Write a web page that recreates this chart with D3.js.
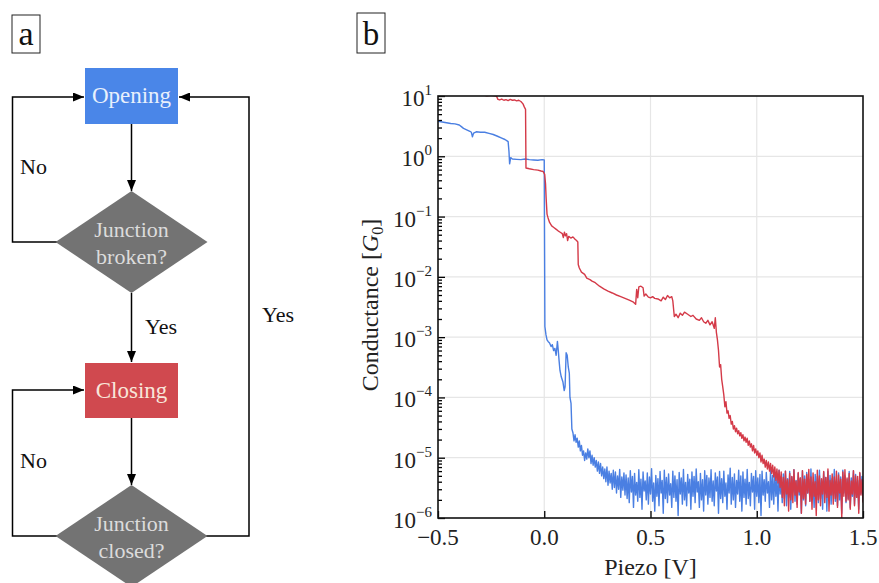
<!DOCTYPE html>
<html><head><meta charset="utf-8">
<script src="https://cdn.jsdelivr.net/npm/d3@7"></script>
<style>
body{margin:0;background:#fff}
svg{display:block}
text{font-family:"Liberation Serif","Times New Roman",serif}
</style>
</head><body>
<svg id="c" width="879" height="583"></svg>
<script>
// ---------- DATA ----------
const xTickValues = [-0.5, 0, 0.5, 1, 1.5];
const xTickLabels = ["\u22120.5", "0.0", "0.5", "1.0", "1.5"];
const yExponents = [1, 0, -1, -2, -3, -4, -5, -6];
const xLabel = "Piezo [V]";
const flowLabels = ["Opening", "Closing", ["Junction", "broken?"], ["Junction", "closed?"]];
const branchLabels = ["No", "Yes", "No", "Yes"];

// Opening trace (blue): [piezo V, conductance G0]
const blueSteps = [
 [-0.5,3.8],[-0.48,3.7],[-0.46,3.6],[-0.44,3.5],[-0.42,3.45],[-0.40,3.3],[-0.39,3.1],[-0.38,2.9],
 [-0.37,2.8],[-0.36,2.7],[-0.35,2.6],[-0.343,2.5],[-0.338,2.1],[-0.333,2.4],[-0.33,2.45],[-0.32,2.55],
 [-0.30,2.5],[-0.28,2.5],[-0.26,2.4],[-0.24,2.3],[-0.22,2.15],[-0.20,2.0],[-0.185,1.9],[-0.175,1.8],
 [-0.17,1.75],[-0.166,1.2],[-0.163,0.75],[-0.158,0.95],[-0.15,0.9],[-0.13,0.89],[-0.11,0.88],[-0.09,0.9],
 [-0.07,0.88],[-0.05,0.87],[-0.03,0.86],[-0.01,0.88],[0.0,0.87],
 [0.003,0.0015],[0.008,0.0011],[0.013,0.0009],[0.018,0.00085],[0.025,0.0008],[0.032,0.0007],[0.038,0.00075],
 [0.044,0.0006],[0.05,0.00065],[0.056,0.0005],[0.062,0.00085],[0.066,0.0006],[0.07,0.0004],[0.074,0.00028],
 [0.08,0.00022],[0.088,0.00018],[0.094,0.00013],[0.098,0.00015],[0.103,0.00055],[0.108,0.0005],[0.113,0.00032],
 [0.118,0.00025],[0.121,0.0001],[0.126,0.00008],[0.13,0.00003]
];
// blue noisy tail, sampled every 0.005 V from 0.135 V, in micro-G0
const blueTailStart = 0.135, tailStep = 0.005;
const blueTailMicro = [
 26,19,24,18,21,15,19,13,16,11,
 13,9,12,9.5,14,10,13,8,11,7.5,
 10,7,9,6,8.5,5.5,8,5,7,4.5,
 6.5,4,7,3.5,6,3.8,5.5,3,6.2,3.2,
 5.8,2.6,5,3,6.4,2.2,4.8,2.9,5.6,2.4,
 5.2,2.1,4.6,1.8,6.1,2.7,4.9,1.5,5.5,2.4,
 3.9,1.9,6.3,2.2,4.4,1.4,5.8,2.8,4.1,2.0,
 5.6,1.7,4.8,2.5,6.6,1.9,3.8,1.3,5.1,2.3,
 4.5,1.6,5.9,2.6,4.2,1.2,6.2,2.1,4.7,1.8,
 5.4,2.4,3.7,1.5,6.0,2.2,5.0,1.9,4.3,1.1,
 5.7,2.5,4.6,1.7,6.4,2.0,3.9,1.6,5.3,2.6,
 4.4,1.4,5.8,2.3,4.9,1.8,6.5,2.7,4.0,1.5,
 5.5,2.0,4.3,1.3,6.1,2.4,5.1,1.7,4.6,2.2,
 6.3,1.9,4.1,1.6,5.6,2.8,4.8,1.2,5.9,2.1,
 4.5,1.8,6.0,2.3,3.8,1.4,5.2,2.6,6.7,1.7,
 4.7,2.0,5.4,1.5,4.2,2.5,6.2,1.9,5.0,1.3,
 5.8,2.2,4.4,1.7,6.4,2.1,3.9,1.6,5.5,2.7,
 4.9,1.4,6.1,2.3,4.6,1.8,5.3,1.1,6.0,2.4,
 4.3,1.9,5.7,2.6,4.0,1.5,6.6,2.0,5.1,1.7,
 5.6,2.3,4.7,1.3,6.2,2.5,4.1,1.8,5.4,2.1,
 6.0,1.6,4.5,2.2,5.9,1.4,4.8,2.7,6.3,1.9,
 4.2,1.7,5.5,2.4,4.6,1.2,6.1,2.0,5.0,1.6,
 5.7,2.6,4.4,1.9,6.5,2.2,3.9,1.5,5.3,2.3,
 4.9,1.8,6.2,2.1,4.3,1.4,5.8,2.5,4.7,1.3,
 6.0,2.2,5.1,1.7,4.5,2.4,6.4,1.9,4.1,1.6,
 5.6,2.0,4.8,1.2,6.2,2.6,5.0,1.8,4.4,2.1,
 5.9,1.5,4.6,2.3,6.1,1.7,5.3,2.2,4.2,1.4,
 5.5,2.5,4.9,1.9
];

// Closing trace (red): [piezo V, conductance G0]
const redSteps = [
 [-0.31,14],[-0.29,10.4],[-0.27,10.1],[-0.25,10.3],[-0.225,10.0],[-0.218,8.8],[-0.21,8.6],[-0.20,8.9],
 [-0.19,8.5],[-0.18,8.7],[-0.17,8.4],[-0.16,8.8],[-0.15,8.5],[-0.14,8.6],[-0.13,8.3],[-0.12,8.5],
 [-0.11,8.1],[-0.10,7.4],[-0.094,6.6],[-0.088,6.0],[-0.086,0.64],[-0.07,0.62],[-0.05,0.6],[-0.03,0.59],
 [-0.015,0.57],[-0.005,0.56],[0.002,0.5],[0.006,0.35],[0.009,0.2],[0.013,0.11],[0.018,0.095],[0.025,0.08],
 [0.035,0.07],[0.045,0.066],[0.055,0.062],[0.065,0.058],[0.075,0.055],[0.085,0.052],[0.09,0.045],[0.095,0.055],
 [0.10,0.048],[0.105,0.052],[0.11,0.040],[0.115,0.047],[0.125,0.044],[0.135,0.046],[0.145,0.042],[0.152,0.040],
 [0.158,0.038],[0.160,0.016],[0.165,0.014],[0.175,0.012],[0.19,0.011],[0.20,0.0095],[0.215,0.0090],[0.225,0.0085],
 [0.24,0.0080],[0.26,0.0070],[0.28,0.0063],[0.30,0.0058],[0.32,0.0054],[0.34,0.0050],[0.36,0.0047],[0.38,0.0044],
 [0.40,0.0041],[0.42,0.0038],[0.43,0.0035],[0.435,0.0062],[0.44,0.0045],[0.445,0.0068],[0.455,0.0070],[0.465,0.0066],
 [0.47,0.0048],[0.478,0.0052],[0.49,0.0046],[0.50,0.0045],[0.51,0.0047],[0.52,0.0044],[0.535,0.0043],[0.55,0.0040],
 [0.56,0.0046],[0.57,0.0042],[0.58,0.0049],[0.59,0.0045],[0.60,0.0047],[0.605,0.0040],[0.612,0.0022],[0.62,0.0024],
 [0.63,0.0021],[0.64,0.0025],[0.65,0.0023],[0.66,0.0026],[0.675,0.0024],[0.69,0.0022],[0.70,0.0023],[0.715,0.0020],
 [0.73,0.0019],[0.74,0.0021],[0.75,0.0018],[0.76,0.0017],[0.77,0.0019],[0.78,0.0016],[0.79,0.0018],[0.80,0.0014],
 [0.805,0.0021],[0.81,0.0012]
];
// red noisy tail, sampled every 0.005 V from 0.815 V, in micro-G0
const redTailStart = 0.815;
const redTailMicro = [
 900,600,320,350,200,150,110,70,85,55,
 60,45,50,36,40,30,34,27,31,25,
 28,23,26,21,24,19,22,18,21,16,
 19,15,17,13,16,12,14,11,13,10,
 12,8.5,11,8,9.5,7,9,6.5,8.5,6,
 8,5.5,7.5,4.8,7,4.2,6.5,3.8,6.2,3.2,
 5.8,2.2,4.7,1.6,6.0,2.5,4.3,1.3,5.5,2.0,
 4.9,1.8,6.3,2.4,4.1,1.5,5.7,2.7,4.6,1.2,
 6.1,2.1,4.4,1.7,5.3,2.6,6.4,1.9,4.8,1.4,
 5.6,2.3,4.0,1.1,6.2,2.0,5.0,1.6,4.5,2.5,
 5.9,1.8,4.7,2.2,6.5,1.3,4.2,2.4,5.4,1.7,
 4.8,2.1,6.0,1.5,5.2,2.6,4.4,1.0,5.8,2.3,
 6.3,1.9,4.6,2.0,5.5,1.4,4.1,2.5,6.1,1.6,
 5.0,2.2,4.9,1.2,5.7,2.4,4.3,1.8
];

// ---------- BUILD ----------
const blueData = blueSteps.concat(blueTailMicro.map((v, i) => [blueTailStart + i * tailStep, v * 1e-6]));
const redData = redSteps.concat(redTailMicro.map((v, i) => [redTailStart + i * tailStep, v * 1e-6]));

const svg = d3.select("#c");
const L = 438, R = 863, T = 96, B = 518;
const x = d3.scaleLinear().domain([-0.5, 1.5]).range([L, R]);
const y = d3.scaleLog().domain([1e-6, 10]).range([B, T]);

const decades = yExponents.map(e => Math.pow(10, e));
const minor = [];
for (let e = -6; e < 1; e++) for (let k = 2; k <= 9; k++) minor.push(k * Math.pow(10, e));

// grid
const grid = svg.append("g").attr("stroke", "#e6e6e6").attr("stroke-width", 1.2);
grid.selectAll("line.h").data(decades.filter(d => d > 1e-6 && d < 10)).join("line")
  .attr("x1", L).attr("x2", R).attr("y1", d => y(d)).attr("y2", d => y(d));
grid.selectAll("line.v").data(xTickValues.filter(d => d > -0.5 && d < 1.5)).join("line")
  .attr("y1", T).attr("y2", B).attr("x1", d => x(d)).attr("x2", d => x(d));

// traces
svg.append("clipPath").attr("id", "clip").append("rect")
  .attr("x", L).attr("y", T).attr("width", R - L).attr("height", B - T);
const line = d3.line().x(d => x(d[0])).y(d => y(d[1]));
const traces = svg.append("g").attr("clip-path", "url(#clip)");
traces.append("path").datum(blueData).attr("d", line)
  .attr("fill", "none").attr("stroke", "#4a7fe2").attr("stroke-width", 1.4).attr("stroke-linejoin", "round");
traces.append("path").datum(redData).attr("d", line)
  .attr("fill", "none").attr("stroke", "#d43a48").attr("stroke-width", 1.4).attr("stroke-linejoin", "round");

// axes (ticks inward)
const gy = svg.append("g").attr("transform", `translate(${L},0)`)
  .call(d3.axisLeft(y).tickValues(decades).tickSize(-7).tickFormat(""));
const gym = svg.append("g").attr("transform", `translate(${L},0)`)
  .call(d3.axisLeft(y).tickValues(minor).tickSize(-4).tickFormat(""));
const gx = svg.append("g").attr("transform", `translate(0,${B})`)
  .call(d3.axisBottom(x).tickValues(xTickValues).tickSize(-7).tickFormat(""));
[gy, gym, gx].forEach(g => {
  g.select(".domain").remove();
  g.selectAll(".tick line").attr("stroke", "#000").attr("stroke-width", 1.3);
});

// frame
svg.append("rect").attr("x", L).attr("y", T).attr("width", R - L).attr("height", B - T)
  .attr("fill", "none").attr("stroke", "#111").attr("stroke-width", 1.6);

// y tick labels
const yl = svg.append("g").attr("font-size", 23).attr("fill", "#222");
yExponents.forEach(e => {
  const t = yl.append("text").attr("x", L - 6).attr("y", y(Math.pow(10, e)) + 10).attr("text-anchor", "end");
  t.append("tspan").text("10");
  t.append("tspan").attr("dy", -11).attr("font-size", 15).text(e < 0 ? "\u2212" + (-e) : String(e));
});
// x tick labels
svg.append("g").attr("font-size", 23).attr("fill", "#222").selectAll("text")
  .data(xTickValues).join("text")
  .attr("x", d => x(d)).attr("y", 545).attr("text-anchor", "middle")
  .text((d, i) => xTickLabels[i]);

// axis labels
svg.append("text").attr("x", (L + R) / 2).attr("y", 575).attr("text-anchor", "middle")
  .attr("font-size", 24).attr("fill", "#222").text(xLabel);
const ylab = svg.append("text").attr("transform", "translate(378,305) rotate(-90)")
  .attr("text-anchor", "middle").attr("font-size", 24).attr("fill", "#222");
ylab.append("tspan").text("Conductance [");
ylab.append("tspan").attr("font-style", "italic").text("G");
ylab.append("tspan").attr("font-size", 16).attr("dy", 5).text("0");
ylab.append("tspan").attr("dy", -5).text("]");

// panel labels
function panelLabel(px, py, w, h, s, fs) {
  svg.append("rect").attr("x", px).attr("y", py).attr("width", w).attr("height", h)
    .attr("fill", "none").attr("stroke", "#222").attr("stroke-width", 1);
  svg.append("text").attr("x", px + w / 2).attr("y", py + h - 8).attr("text-anchor", "middle")
    .attr("font-size", fs).attr("fill", "#111").text(s);
}
panelLabel(12, 15, 28, 38, "a", 34);
panelLabel(357, 13, 28, 40, "b", 33);

// ---------- FLOWCHART ----------
const defs = svg.append("defs");
defs.append("marker").attr("id", "arr").attr("markerUnits", "userSpaceOnUse")
  .attr("markerWidth", 11).attr("markerHeight", 9).attr("refX", 11).attr("refY", 4.5)
  .attr("orient", "auto").append("path").attr("d", "M0,0 L11,4.5 L0,9 Z").attr("fill", "#000");

const fc = svg.append("g");
const cx = 131.5;
const connectors = [
  [[cx, 124], [cx, 191]],
  [[cx, 293], [cx, 362]],
  [[cx, 418], [cx, 485]],
  [[57, 242], [12.5, 242], [12.5, 97], [84, 97]],
  [[57, 536], [12.5, 536], [12.5, 390], [84, 390]],
  [[206, 536], [249, 536], [249, 97], [179, 97]]
];
fc.selectAll("path.c").data(connectors).join("path")
  .attr("d", d => d3.line()(d)).attr("fill", "none").attr("stroke", "#000")
  .attr("stroke-width", 1.5).attr("marker-end", "url(#arr)");

// boxes
fc.append("rect").attr("x", 85).attr("y", 68).attr("width", 93).attr("height", 56).attr("fill", "#4a86e8");
fc.append("rect").attr("x", 85).attr("y", 363).attr("width", 93).attr("height", 55).attr("fill", "#d0494f");
fc.append("text").attr("x", cx).attr("y", 103).attr("text-anchor", "middle").attr("font-size", 23)
  .attr("fill", "#e8f0fc").text(flowLabels[0]);
fc.append("text").attr("x", cx).attr("y", 398).attr("text-anchor", "middle").attr("font-size", 23)
  .attr("fill", "#f8e6da").text(flowLabels[1]);

// diamonds
[[242, flowLabels[2]], [536, flowLabels[3]]].forEach(([cy, lab]) => {
  fc.append("path").attr("d", `M${cx},${cy - 51} L${cx + 76},${cy} L${cx},${cy + 51} L${cx - 76},${cy} Z`)
    .attr("fill", "#737373");
  fc.append("text").attr("x", cx).attr("y", cy - 5).attr("text-anchor", "middle").attr("font-size", 22)
    .attr("fill", "#dcdcdc").text(lab[0]);
  fc.append("text").attr("x", cx).attr("y", cy + 22).attr("text-anchor", "middle").attr("font-size", 22)
    .attr("fill", "#dcdcdc").text(lab[1]);
});

// branch labels
const bl = [[20, 174], [145, 334], [20, 468], [262, 322]];
bl.forEach((p, i) => fc.append("text").attr("x", p[0]).attr("y", p[1]).attr("font-size", 22)
  .attr("fill", "#111").text(branchLabels[i]));
</script>
</body></html>
